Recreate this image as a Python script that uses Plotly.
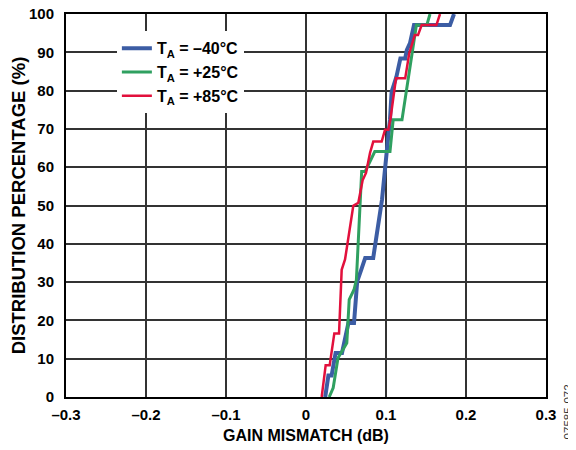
import plotly.graph_objects as go

# gain mismatch (dB) vs cumulative distribution (%)
blue_x = [0.024, 0.028, 0.032, 0.037, 0.045, 0.053, 0.060, 0.064, 0.069, 0.074, 0.084,
          0.095, 0.102, 0.105, 0.107, 0.113, 0.118, 0.124, 0.126, 0.130, 0.135, 0.180, 0.185]
blue_y = [0, 5.6, 5.6, 11.5, 11.5, 19.3, 19.3, 30.2, 33.2, 36.3, 36.3,
          51.5, 66.3, 72.4, 79.7, 83.6, 88.4, 88.4, 90.6, 92.4, 97.1, 97.1, 100]

green_x = [0.029, 0.034, 0.040, 0.051, 0.054, 0.060, 0.063, 0.065, 0.0675, 0.0696, 0.074,
           0.086, 0.105, 0.109, 0.120, 0.128, 0.1325, 0.138, 0.151, 0.155]
green_y = [0, 2.4, 10.2, 14.1, 25.4, 28, 30.6, 40.2, 51.5, 58.9, 58.9,
           64.1, 64.1, 72.4, 72.4, 83.2, 89.3, 97.1, 97.1, 100]

red_x = [0.0196, 0.0246, 0.0296, 0.0354, 0.0413, 0.0446, 0.0488, 0.0591, 0.0654, 0.0709,
         0.075, 0.080, 0.0841, 0.0946, 0.0988, 0.1029, 0.1055, 0.1125, 0.124, 0.129,
         0.136, 0.140, 0.1446, 0.163, 0.1675]
red_y = [0, 8.3, 8.3, 16.6, 16.6, 33.2, 35.9, 49.9, 50.7, 56.7,
         58.5, 63.7, 66.7, 66.7, 69.8, 69.8, 72.5, 83.2, 83.2, 89.7,
         94.5, 94.5, 97.1, 97.1, 100]

x_ticks = [-0.3, -0.2, -0.1, 0, 0.1, 0.2, 0.3]
x_labels = ["–0.3", "–0.2", "–0.1", "0", "0.1", "0.2", "0.3"]
y_ticks = [0, 10, 20, 30, 40, 50, 60, 70, 80, 90, 100]

series = [
    ("<b>T<sub>A</sub> = –40°C</b>", blue_x, blue_y, "#3c5da4", 4),
    ("<b>T<sub>A</sub> = +25°C</b>", green_x, green_y, "#2fa060", 3),
    ("<b>T<sub>A</sub> = +85°C</b>", red_x, red_y, "#e2103c", 2.5),
]

fig = go.Figure()
for name, xs, ys, color, width in series:
    fig.add_trace(go.Scatter(x=xs, y=ys, mode="lines", name=name,
                             line=dict(color=color, width=width)))

family = "Liberation Sans, Arial, sans-serif"
font = dict(family=family, size=15, color="black")

# page body has an 8px margin, so the figure is 8px smaller than the window
fig.update_layout(
    width=568, height=442,
    margin=dict(l=58, r=30, t=6, b=52.5),
    plot_bgcolor="white", paper_bgcolor="white",
    font=font,
    legend=dict(x=0.106, y=0.955, xanchor="left", yanchor="top",
                bgcolor="white", font=dict(size=16, family=family),
                tracegroupgap=0),
    xaxis=dict(range=[-0.3, 0.3], tickvals=x_ticks, ticktext=[f"<b>{t}</b>" for t in x_labels],
               showgrid=True, gridcolor="#333333", gridwidth=1.5,
               showline=True, linecolor="black", linewidth=2, mirror=True,
               ticks="", zeroline=False, automargin=False, ticklabelstandoff=3,
               ticklabeloverflow="allow",
               title=dict(text="<b>GAIN MISMATCH (dB)</b>", font=dict(size=16), standoff=8)),
    yaxis=dict(range=[0, 100], tickvals=y_ticks, ticktext=[f"<b>{t}</b>" for t in y_ticks],
               showgrid=True, gridcolor="#333333", gridwidth=1.5,
               showline=True, linecolor="black", linewidth=2, mirror=True,
               ticks="", zeroline=False, automargin=False, ticklabelstandoff=7,
               ticklabeloverflow="allow",
               title=dict(text="<b>DISTRIBUTION PERCENTAGE (%)</b>", font=dict(size=18.5), standoff=10)),
)

fig.add_annotation(text="07585-072", xref="paper", yref="paper", x=1.046, y=-0.04,
                   xanchor="center", yanchor="middle", textangle=-90, showarrow=False,
                   font=dict(size=11.5, color="#333333", family=family))

fig.write_html("out.html")
